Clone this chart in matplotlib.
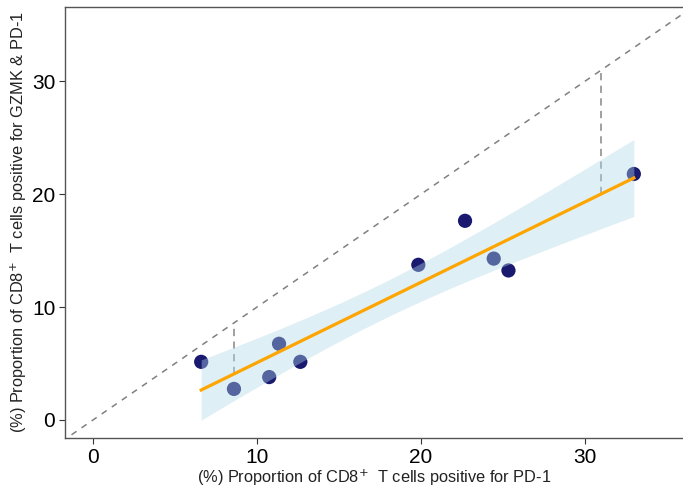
import numpy as np
import matplotlib
matplotlib.use("Agg")
import matplotlib.pyplot as plt

plt.rcParams['font.family'] = ['Liberation Sans', 'DejaVu Sans']

# data
pd1 = [6.6, 8.6, 10.75, 11.35, 12.65, 19.85, 22.7, 24.45, 25.35, 33.0]
gzmk_pd1 = [5.15, 2.75, 3.8, 6.75, 5.15, 13.75, 17.65, 14.3, 13.25, 21.8]
seg_x = [8.6, 31.0]
x_ticks = [0, 10, 20, 30]
y_ticks = [0, 10, 20, 30]

x = np.array(pd1)
y = np.array(gzmk_pd1)
n = len(x)
b1, b0 = np.polyfit(x, y, 1)
xs = np.linspace(x.min(), x.max(), 80)
ys = b0 + b1 * xs
resid = y - (b0 + b1 * x)
s = np.sqrt(np.sum(resid**2) / (n - 2))
sxx = np.sum((x - x.mean())**2)
tcrit = 2.306  # t(0.975, df=8)
se = s * np.sqrt(1 / n + (xs - x.mean())**2 / sxx)

fig = plt.figure(figsize=(6.83, 4.94), dpi=100)
ax = fig.add_axes([65/683, 1 - 438/494, 1 - 65/683, (438 - 7)/494])

xlim = (-1.71, 36.0)
ylim = (-1.6, 36.6)
ax.set_xlim(*xlim)
ax.set_ylim(*ylim)

# identity line
ax.plot([-5, 40], [-5, 40], ls=(0, (4, 4)), color='#808080', lw=1.1, zorder=1)

# vertical segments from fit to identity
for sx in seg_x:
    ax.plot([sx, sx], [b0 + b1 * sx, sx], ls=(0, (4, 3)), color='#999999', lw=1.3, zorder=1)

# points
ax.scatter(x, y, s=105, color='#191970', edgecolors='none', zorder=2)

# confidence ribbon (drawn over points)
ax.fill_between(xs, ys - tcrit * se, ys + tcrit * se, color='#ADD8E6', alpha=0.4,
                linewidth=0, zorder=3)
# regression line
ax.plot(xs, ys, color='#FFA500', lw=2.3, zorder=4)

ax.set_xticks(x_ticks)
ax.set_yticks(y_ticks)
ax.tick_params(axis='both', labelsize=15, colors='#333333', length=4, width=0.8,
               labelcolor='black', pad=3)
for side in ['left', 'bottom', 'top']:
    ax.spines[side].set_color('#555555')
    ax.spines[side].set_linewidth(1.0)
ax.spines['right'].set_visible(False)

ax.set_xlabel(r'(%) Proportion of CD8$^{+}$  T cells positive for PD-1', fontsize=11.8, color='#222222', labelpad=1)
ax.set_ylabel(r'(%) Proportion of CD8$^{+}$  T cells positive for GZMK & PD-1', fontsize=11.8, color='#222222', labelpad=2)

fig.savefig('out.png', dpi=100)
